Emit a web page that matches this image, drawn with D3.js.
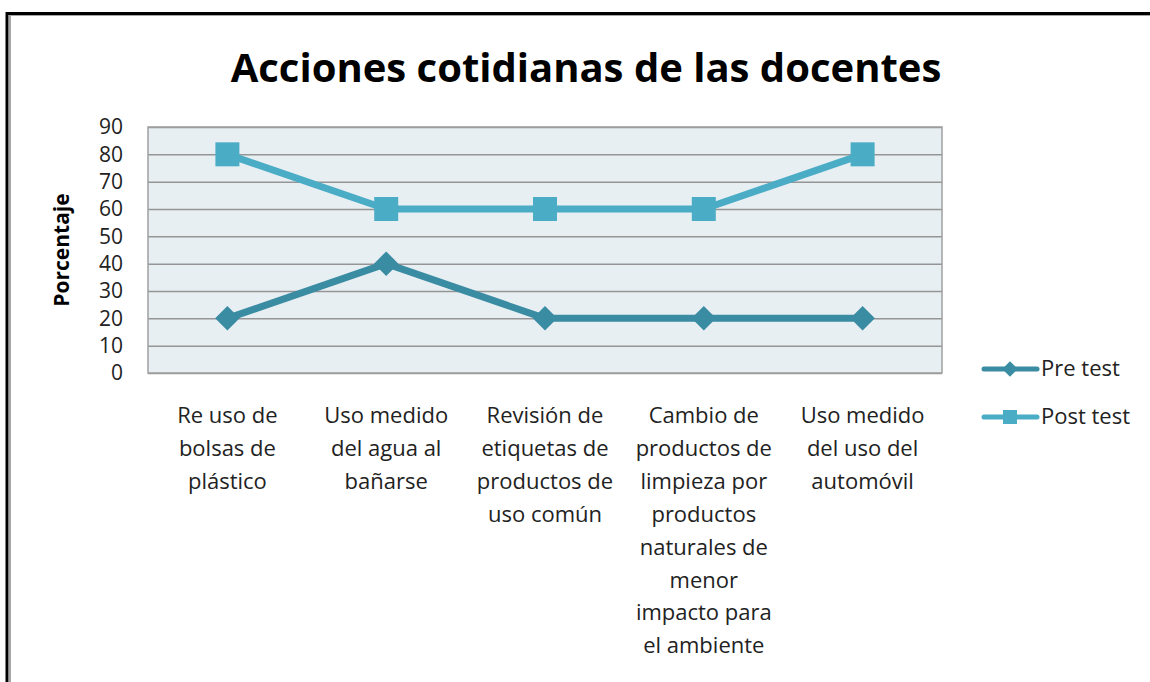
<!DOCTYPE html>
<html>
<head>
<meta charset="utf-8">
<script src="https://cdn.jsdelivr.net/npm/d3@7.9.0/dist/d3.min.js"></script>
<style>
  body { margin: 0; background: #fff; }
  svg { display: block; font-family: 'Open Sans', 'Noto Sans', sans-serif; }
</style>
</head>
<body>
<div id="chart"></div>
<script>
const categories = [
  ['Re uso de', 'bolsas de', 'plástico'],
  ['Uso medido', 'del agua al', 'bañarse'],
  ['Revisión de', 'etiquetas de', 'productos de', 'uso común'],
  ['Cambio de', 'productos de', 'limpieza por', 'productos', 'naturales de', 'menor', 'impacto para', 'el ambiente'],
  ['Uso medido', 'del uso del', 'automóvil'],
];
const preTest = [20, 40, 20, 20, 20];
const postTest = [80, 60, 60, 60, 80];
const yTicks = [0, 10, 20, 30, 40, 50, 60, 70, 80, 90];

const width = 1150;
const height = 682;
const plot = { left: 148, right: 942, top: 127, bottom: 373 };

const svg = d3.select('#chart').append('svg')
  .attr('width', width)
  .attr('height', height);

// outer frame
svg.append('line').attr('x1', 7).attr('x2', 7).attr('y1', 12).attr('y2', height)
  .attr('stroke', '#000').attr('stroke-width', 3);
svg.append('line').attr('x1', 6).attr('x2', width).attr('y1', 13.5).attr('y2', 13.5)
  .attr('stroke', '#000').attr('stroke-width', 3);
svg.append('line').attr('x1', 10).attr('x2', 10).attr('y1', 15).attr('y2', height)
  .attr('stroke', '#a6a6a6').attr('stroke-width', 2);
svg.append('line').attr('x1', 9).attr('x2', width).attr('y1', 15.5).attr('y2', 15.5)
  .attr('stroke', '#a6a6a6').attr('stroke-width', 1);

svg.append('text')
  .attr('x', 586).attr('y', 82)
  .attr('text-anchor', 'middle')
  .attr('font-size', 40).attr('font-weight', 'bold')
  .attr('fill', '#000')
  .text('Acciones cotidianas de las docentes');

const x = d3.scaleBand()
  .domain(d3.range(categories.length))
  .range([plot.left, plot.right]);

const y = d3.scaleLinear()
  .domain([0, 90])
  .range([plot.bottom, plot.top]);

svg.append('rect')
  .attr('x', plot.left).attr('y', plot.top)
  .attr('width', plot.right - plot.left).attr('height', plot.bottom - plot.top)
  .attr('fill', '#e8eff3');

const grid = svg.append('g')
  .attr('transform', `translate(${plot.left},0)`)
  .call(d3.axisLeft(y).tickValues(yTicks).tickFormat('').tickSize(-(plot.right - plot.left)));
grid.select('.domain').remove();
grid.selectAll('line').attr('stroke', '#959595').attr('stroke-width', 1.5);

svg.append('rect')
  .attr('x', plot.left).attr('y', plot.top)
  .attr('width', plot.right - plot.left).attr('height', plot.bottom - plot.top)
  .attr('fill', 'none').attr('stroke', '#a0a0a0').attr('stroke-width', 1.5);

const yAxis = svg.append('g')
  .attr('transform', `translate(${plot.left - 25},0)`)
  .call(d3.axisLeft(y).tickValues(yTicks).tickSize(0).tickPadding(0));
yAxis.select('.domain').remove();
yAxis.selectAll('text')
  .attr('font-size', 21)
  .attr('font-family', "'Open Sans', sans-serif")
  .attr('fill', '#222');

svg.append('text')
  .attr('transform', `translate(69,250) rotate(-90)`)
  .attr('text-anchor', 'middle')
  .attr('font-size', 21).attr('font-weight', 'bold')
  .text('Porcentaje');

// category labels
const labels = svg.append('g');
categories.forEach((lines, i) => {
  const t = labels.append('text')
    .attr('x', x(i) + x.bandwidth() / 2)
    .attr('y', 423)
    .attr('text-anchor', 'middle')
    .attr('font-size', 22)
    .attr('fill', '#222');
  lines.forEach((ln, j) => {
    t.append('tspan').attr('x', x(i) + x.bandwidth() / 2).attr('dy', j === 0 ? 0 : 32.9).text(ln);
  });
});

const cx = (d, i) => x(i) + x.bandwidth() / 2;
const line = d3.line().x((d, i) => cx(d, i)).y((d) => y(d));

const preColor = '#3a8ca3';
const postColor = '#4bacc6';

svg.append('path').datum(preTest)
  .attr('d', line).attr('fill', 'none')
  .attr('stroke', preColor).attr('stroke-width', 7).attr('stroke-linejoin', 'round');
svg.append('path').datum(postTest)
  .attr('d', line).attr('fill', 'none')
  .attr('stroke', postColor).attr('stroke-width', 7).attr('stroke-linejoin', 'round');

const diamond = d3.symbol().type(d3.symbolSquare).size(300);
const square = d3.symbol().type(d3.symbolSquare).size(576);

svg.append('g').selectAll('path').data(preTest).join('path')
  .attr('d', diamond)
  .attr('transform', (d, i) => `translate(${cx(d, i)},${y(d)}) rotate(45)`)
  .attr('fill', preColor);

svg.append('g').selectAll('path').data(postTest).join('path')
  .attr('transform', (d, i) => `translate(${cx(d, i)},${y(d)})`)
  .attr('d', square)
  .attr('fill', postColor);

// legend
const legend = [
  { name: 'Pre test', color: preColor, sym: d3.symbol().type(d3.symbolSquare).size(120), rot: 45, y: 369 },
  { name: 'Post test', color: postColor, sym: d3.symbol().type(d3.symbolSquare).size(196), rot: 0, y: 417 },
];
legend.forEach((l) => {
  const g = svg.append('g');
  g.append('line').attr('x1', 984).attr('x2', 1037).attr('y1', l.y).attr('y2', l.y)
    .attr('stroke', l.color).attr('stroke-width', 5).attr('stroke-linecap', 'round');
  g.append('path').attr('d', l.sym)
    .attr('transform', `translate(1010,${l.y}) rotate(${l.rot})`)
    .attr('fill', l.color);
  g.append('text').attr('x', 1041).attr('y', l.y + 7)
    .attr('font-size', 22).attr('fill', '#222').text(l.name);
});
</script>
</body>
</html>
